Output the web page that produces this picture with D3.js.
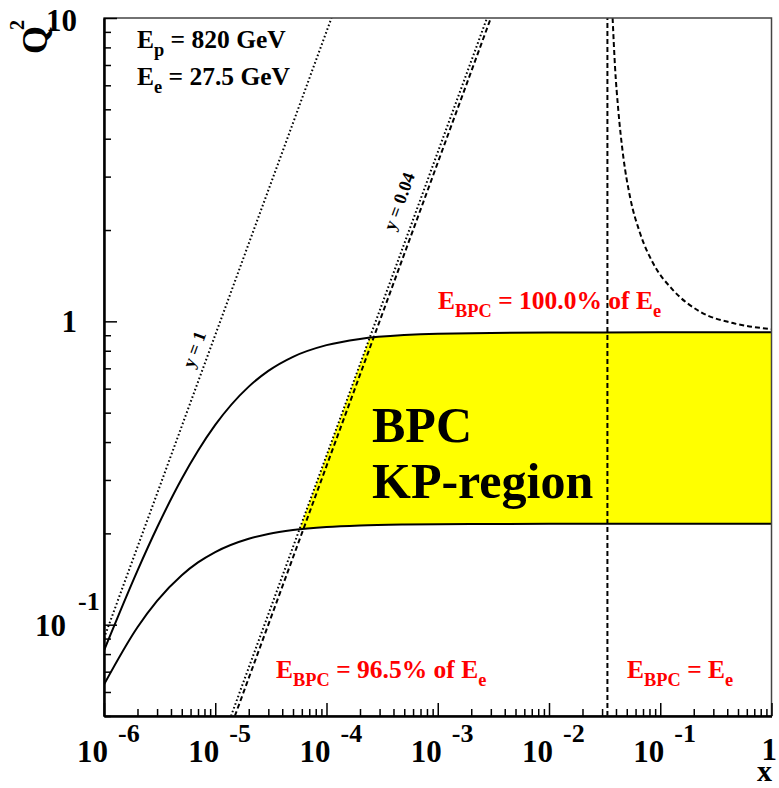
<!DOCTYPE html>
<html><head><meta charset="utf-8">
<script src="https://cdn.jsdelivr.net/npm/d3@7"></script>
<style>
html,body{margin:0;padding:0;background:#fff;}
text{font-family:"Liberation Serif","Times New Roman",serif;font-weight:bold;}
</style></head>
<body>
<svg id="c" width="779" height="788"></svg>
<script>
// ---------------- data ----------------
const xMajor = [1e-6, 1e-5, 1e-4, 1e-3, 1e-2, 1e-1, 1];
const xMajorExp = ["-6", "-5", "-4", "-3", "-2", "-1", ""];
const yMajor = [0.1, 1, 10];

// common x sampling of the two E_BPC curves
const curveX = [1e-6, 2e-6, 3e-6, 5e-6, 7e-6, 1e-5, 2e-5, 3e-5, 5e-5, 1e-4, 2e-4, 5e-4, 1e-3, 1e-2, 1e-1, 1];
const curve100Q2 = [0.0822, 0.1508, 0.2091, 0.3027, 0.3744, 0.4555, 0.6093, 0.6866, 0.7641, 0.8348, 0.8753, 0.9016, 0.9107, 0.9190, 0.9199, 0.9200];
const curve965Q2 = [0.0635, 0.0981, 0.1198, 0.1456, 0.1604, 0.1736, 0.1921, 0.1992, 0.2052, 0.2100, 0.2125, 0.2140, 0.2145, 0.2150, 0.2150, 0.2150];

// straight lines y = 1, y = 0.04 and BPC edge (endpoints)
const lineY1X = [1e-6, 1.109e-4];
const lineY1Q2 = [0.0902, 10];
const lineY004X = [1.386e-5, 2.772e-3];
const lineY004Q2 = [0.05, 10];
const lineEdgeX = [1.50e-5, 3.0e-3];
const lineEdgeQ2 = [0.05, 10];

// vertical E_BPC = E_e line
const vertX = [0.0335, 0.0335];
const vertQ2 = [0.05, 10];

// dashed hyperbola
const hypX = [0.0373, 0.03921, 0.04196, 0.04655, 0.05346, 0.06577, 0.08605, 0.1302, 0.2277, 0.4507, 1];
const hypQ2 = [10, 6.91, 4.974, 3.488, 2.575, 1.955, 1.557, 1.268, 1.076, 0.987, 0.943];

// ---------------- drawing ----------------
const svg = d3.select("#c");
const L = 104, R = 771.5, T = 18, B = 716;
const x = d3.scaleLog().domain([1e-6, 1]).range([L, R]);
const y = d3.scaleLog().domain([0.05, 10]).range([B, T]);

const defs = svg.append("defs");
defs.append("clipPath").attr("id", "plot").append("rect")
  .attr("x", L).attr("y", T).attr("width", R - L).attr("height", B - T);
// region right of the y = 0.04 line
defs.append("clipPath").attr("id", "rightOfY004").append("polygon")
  .attr("points", [
    [x(lineY004X[0]), y(lineY004Q2[0])],
    [x(lineY004X[1]), y(lineY004Q2[1])],
    [R, T], [R, B]
  ].map(p => p.join(",")).join(" "));

const zip = (xs, ys) => xs.map((v, i) => [v, ys[i]]);
const line = d3.line().x(d => x(d[0])).y(d => y(d[1]));
const smooth = d3.line().x(d => x(d[0])).y(d => y(d[1])).curve(d3.curveMonotoneX);

const plot = svg.append("g").attr("clip-path", "url(#plot)");

// yellow KP region
const area = d3.area().x(d => x(d[0])).y0(d => y(d[2])).y1(d => y(d[1])).curve(d3.curveMonotoneX);
plot.append("g").attr("clip-path", "url(#rightOfY004)")
  .append("path")
  .datum(curveX.map((v, i) => [v, curve100Q2[i], curve965Q2[i]]))
  .attr("d", area).attr("fill", "#ffff00");

// solid curves
[curve100Q2, curve965Q2].forEach(q => {
  plot.append("path").datum(zip(curveX, q)).attr("d", smooth)
    .attr("fill", "none").attr("stroke", "#000").attr("stroke-width", 2);
});

// dotted lines
[[lineY1X, lineY1Q2], [lineY004X, lineY004Q2]].forEach(([a, b]) => {
  plot.append("path").datum(zip(a, b)).attr("d", line)
    .attr("fill", "none").attr("stroke", "#000").attr("stroke-width", 2)
    .attr("stroke-dasharray", "1.6,2.4");
});
// dashed lines
plot.append("path").datum(zip(lineEdgeX, lineEdgeQ2)).attr("d", line)
  .attr("fill", "none").attr("stroke", "#000").attr("stroke-width", 2).attr("stroke-dasharray", "5,3");
plot.append("path").datum(zip(vertX, vertQ2)).attr("d", line)
  .attr("fill", "none").attr("stroke", "#000").attr("stroke-width", 2).attr("stroke-dasharray", "5,3");
plot.append("path").datum(zip(hypX, hypQ2)).attr("d", smooth)
  .attr("fill", "none").attr("stroke", "#000").attr("stroke-width", 2).attr("stroke-dasharray", "5,3");

// frame
svg.append("rect").attr("x", L).attr("y", T).attr("width", R - L).attr("height", B - T)
  .attr("fill", "none").attr("stroke", "#444").attr("stroke-width", 1.5);

// axes
function minorTicks(lo, hi) {
  const out = [];
  for (let e = Math.floor(Math.log10(lo)); e <= Math.ceil(Math.log10(hi)); e++)
    for (let m = 2; m <= 9; m++) { const v = m * Math.pow(10, e); if (v >= lo && v <= hi) out.push(v); }
  return out;
}
function styleAxis(g) {
  g.selectAll("path.domain").attr("stroke", "#000").attr("stroke-width", 2);
  g.selectAll(".tick line").attr("stroke", "#000").attr("stroke-width", 1.5);
  g.selectAll(".tick text").remove();
}
svg.append("g").attr("transform", `translate(0,${B})`)
  .call(d3.axisBottom(x).tickValues(minorTicks(1e-6, 1)).tickSize(-7).tickSizeOuter(0).tickFormat(""))
  .call(styleAxis);
svg.append("g").attr("transform", `translate(0,${B})`)
  .call(d3.axisBottom(x).tickValues(xMajor).tickSize(-13).tickSizeOuter(0).tickFormat(""))
  .call(styleAxis);
svg.append("g").attr("transform", `translate(${L},0)`)
  .call(d3.axisLeft(y).tickValues(minorTicks(0.05, 10)).tickSize(-7).tickSizeOuter(0).tickFormat(""))
  .call(styleAxis);
svg.append("g").attr("transform", `translate(${L},0)`)
  .call(d3.axisLeft(y).tickValues(yMajor).tickSize(-13).tickSizeOuter(0).tickFormat(""))
  .call(styleAxis);

// x tick labels
xMajor.forEach((v, i) => {
  if (xMajorExp[i] === "") {
    svg.append("text").attr("x", 777).attr("y", 760).attr("text-anchor", "end")
      .attr("font-size", 31).text("1");
  } else {
    svg.append("text").attr("x", x(v) + 4).attr("y", 762).attr("text-anchor", "end")
      .attr("font-size", 31).text("10");
    svg.append("text").attr("x", x(v) + 14).attr("y", 742).attr("text-anchor", "start")
      .attr("font-size", 26).text(xMajorExp[i]);
  }
});
svg.append("text").attr("x", 772).attr("y", 781).attr("text-anchor", "end").attr("font-size", 30).text("x");

// y tick labels
svg.append("text").attr("x", 77).attr("y", y(10) + 13).attr("text-anchor", "end").attr("font-size", 31).text("10");
svg.append("text").attr("x", 77).attr("y", y(1) + 11).attr("text-anchor", "end").attr("font-size", 31).text("1");
svg.append("text").attr("x", 66).attr("y", y(0.1) + 11).attr("text-anchor", "end").attr("font-size", 31).text("10");
svg.append("text").attr("x", 78).attr("y", y(0.1) - 15).attr("text-anchor", "start").attr("font-size", 26).text("-1");

// Q^2 axis title (rotated)
svg.append("text").attr("transform", "translate(47,54) rotate(-90)")
  .attr("font-size", 36).text("Q");
svg.append("text").attr("transform", "translate(24,30) rotate(-90)")
  .attr("font-size", 20).text("2");

// beam energies
function subText(xp, yp, size, parts, color) {
  const t = svg.append("text").attr("x", xp).attr("y", yp).attr("font-size", size).attr("fill", color || "#000");
  let shifted = false;
  parts.forEach(p => {
    const s = t.append("tspan").text(p.t);
    if (p.sub && !shifted) { s.attr("dy", size * 0.3).attr("font-size", size * 0.72); shifted = true; }
    else if (!p.sub && shifted) { s.attr("dy", -size * 0.3); shifted = false; }
    else if (p.sub) s.attr("font-size", size * 0.72);
  });
  return t;
}
subText(137, 48, 25.5, [{t: "E"}, {t: "p", sub: true}, {t: " = 820 GeV"}]);
subText(137, 85, 25.5, [{t: "E"}, {t: "e", sub: true}, {t: " = 27.5 GeV"}]);

// red labels
subText(438, 309, 25.5, [{t: "E"}, {t: "BPC", sub: true}, {t: " = 100.0% of E"}, {t: "e", sub: true}], "#ff0000");
subText(276, 678, 25.5, [{t: "E"}, {t: "BPC", sub: true}, {t: " = 96.5% of E"}, {t: "e", sub: true}], "#ff0000");
subText(627, 678, 25.5, [{t: "E"}, {t: "BPC", sub: true}, {t: " = E"}, {t: "e", sub: true}], "#ff0000");

// region title
svg.append("text").attr("x", 372).attr("y", 442).attr("font-size", 50).text("BPC");
svg.append("text").attr("x", 372).attr("y", 498).attr("font-size", 50).text("KP-region");

// line labels
const ang = -Math.atan((y(0.1) - y(1)) / (x(1e-5) - x(1e-6))) * 180 / Math.PI;
svg.append("text").attr("transform", `translate(196,350) rotate(${ang})`)
  .attr("text-anchor", "middle").attr("dominant-baseline", "middle").attr("font-size", 18).text("y = 1");
svg.append("text").attr("transform", `translate(401,202) rotate(${ang})`)
  .attr("text-anchor", "middle").attr("dominant-baseline", "middle").attr("font-size", 18).text("y = 0.04");
</script>
</body></html>
